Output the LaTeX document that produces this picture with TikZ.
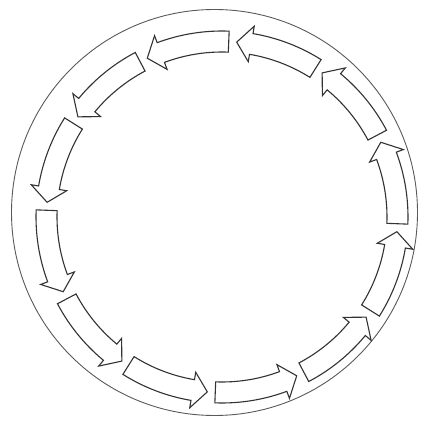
\documentclass[tikz,border=0pt]{standalone}
\begin{document}
\begin{tikzpicture}[x=1pt,y=1pt,
  ringline/.style={draw=black!65, line width=0.9pt},
  arrowline/.style={draw=black!80, line width=1.1pt, line join=miter, fill=white}]
\useasboundingbox (0,0) rectangle (426,423);
\node[ringline, circle, minimum size=406pt, inner sep=0pt] (ring) at (214.5,210.5) {};
\coordinate (c) at (222,206);
\begin{scope}[shift={(c)}]
\foreach \k in {0,...,11} {
  \pgfmathsetmacro\ta{-3.5+30*\k+1.3}
  \pgfmathsetmacro\tp{-3.5+30*(\k+1)-1.3}
  \pgfmathsetmacro\tb{\tp-4.8}
  \draw[arrowline] (\ta:165) arc[start angle=\ta, end angle=\tb, radius=165]
     -- (\tb:157.5) -- (\tp:175.5) -- (\tb:193.5) -- (\tb:186)
     arc[start angle=\tb, end angle=\ta, radius=186] -- cycle;
}
\end{scope}
\end{tikzpicture}
\end{document}
